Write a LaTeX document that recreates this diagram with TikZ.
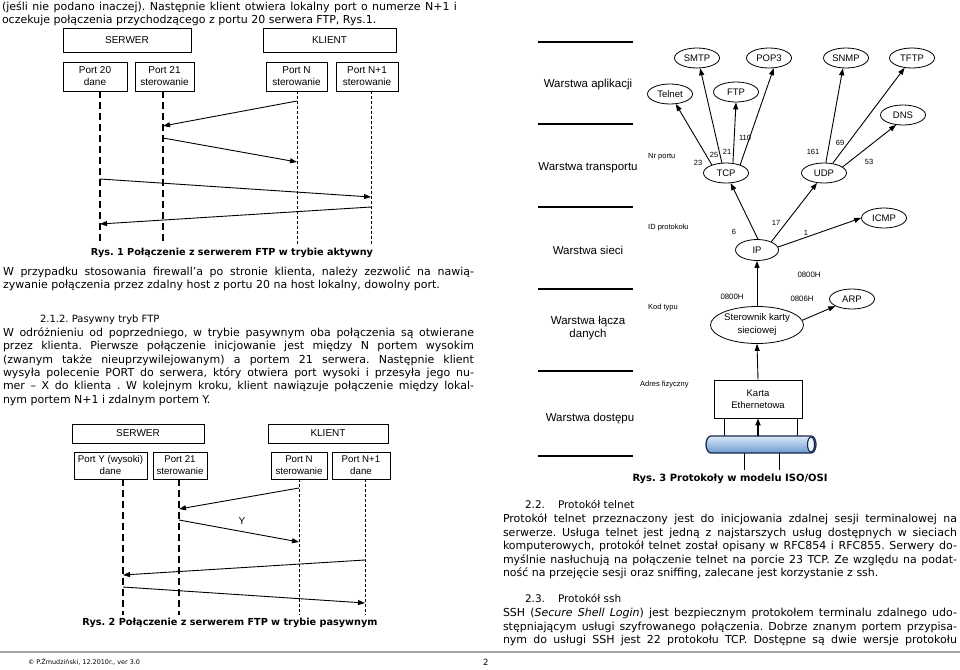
\documentclass[tikz,border=0pt]{standalone}
\usepackage{fontspec}
\usepackage{graphicx}
\setmainfont{DejaVu Sans}
\newfontfamily\arialf{Liberation Sans}
\usetikzlibrary{arrows.meta,shapes.geometric}
\frenchspacing
\newcommand\fs[2]{\fontsize{#1}{#2}\selectfont}
\newcommand\jline[5]{\node[txt,font=#2] (#1) at (#3) {\makebox[#4pt][s]{\strut #5}};}
\newcommand\nline[4]{\node[txt,font=#2] (#1) at (#3) {\strut #4};}
\newcommand\bodyl{\fs{11}{13}}
\newcommand\bodyr{\fs{11}{13}}
\definecolor{cylA}{HTML}{DBE8F6}
\definecolor{cylB}{HTML}{A9C7EA}
\definecolor{cylC}{HTML}{6E9BD0}
\definecolor{cylD}{HTML}{1C2A50}
\definecolor{cylE}{HTML}{EEF4FB}
\tikzset{
 txt/.style={anchor=west, inner sep=0pt, outer sep=0pt},
 sbox/.style={draw, line width=0.6pt, inner sep=0pt, align=center, font=\arialf\fs{10}{12}},
 ell/.style={ellipse, draw, line width=0.8pt, minimum width=45pt, minimum height=20pt, inner sep=0pt, font=\arialf\fs{9.5}{11}},
 arr/.style={-{Triangle[length=7pt,width=5pt]}, line width=0.9pt},
 srv/.style={line width=1.1pt, dash pattern=on 7pt off 4pt},
 cli/.style={line width=0.5pt, dash pattern=on 3pt off 2pt},
 layer/.style={line width=2pt},
 lyr/.style={font=\arialf\fs{11.5}{13.5}, align=center, inner sep=0pt},
 small/.style={font=\arialf\fs{7.5}{9}, inner sep=0pt},
 capt/.style={inner sep=0pt},
}
\begin{document}
\begin{tikzpicture}[x=1pt,y=-1pt]
\useasboundingbox (0,0) rectangle (960,669);
\fill[white] (0,0) rectangle (960,669);

% ---------- left column text ----------
\jline{t1}{\bodyl}{2,7.5}{455}{(jeśli nie podano inaczej). Następnie klient otwiera lokalny port o numerze N+1 i}
\nline{t2}{\bodyl}{2,21}{oczekuje połączenia przychodzącego z portu 20 serwera FTP, Rys.1.}

% ---------- Rys. 1 ----------
\node[sbox, minimum width=128pt, minimum height=24pt] (serwer1) at (127,40) {SERWER};
\node[sbox, minimum width=133pt, minimum height=24pt] (klient1) at (329.5,40) {KLIENT};
\node[sbox, minimum width=64pt, minimum height=29pt] (p20) at (95,76.5) {Port 20\\dane};
\node[sbox, minimum width=59pt, minimum height=29pt] (p21) at (164.5,76.5) {Port 21\\sterowanie};
\node[sbox, minimum width=61pt, minimum height=29pt] (pN) at (296.5,76.5) {Port N\\sterowanie};
\node[sbox, minimum width=62pt, minimum height=29pt] (pN1) at (367,76.5) {Port N+1\\sterowanie};
\coordinate (a20) at (100,244);
\coordinate (a21) at (163,244);
\coordinate (aN) at (297,244);
\coordinate (aN1) at (371,244);
\draw[srv] (a20 |- p20.south) -- (a20);
\draw[srv] (a21 |- p21.south) -- (a21);
\draw[cli] (aN |- pN.south) -- (aN);
\draw[cli] (aN1 |- pN1.south) -- (aN1);
\coordinate (m1s) at (297,101); \coordinate (m1e) at (163,126);
\coordinate (m2s) at (163,138); \coordinate (m2e) at (297,162);
\coordinate (m3s) at (100,179); \coordinate (m3e) at (371,197);
\coordinate (m4s) at (371,207); \coordinate (m4e) at (100,224);
\draw[arr] (m1s) -- (m1e);
\draw[arr] (m2s) -- (m2e);
\draw[arr] (m3s) -- (m3e);
\draw[arr] (m4s) -- (m4e);
\node[capt] (cap1) at (232,253) {\resizebox{282pt}{!}{\bfseries\fs{9}{11}Rys. 1 Połączenie z serwerem FTP w trybie aktywny}};

\jline{p1a}{\bodyl}{3,273}{471}{W przypadku stosowania firewall’a po stronie klienta, należy zezwolić na nawią-}
\nline{p1b}{\bodyl}{3,285.5}{zywanie połączenia przez zdalny host z portu 20 na host lokalny, dowolny port.}

\nline{h212}{\fs{10}{11}}{40,320.5}{2.1.2. Pasywny tryb FTP}
\jline{p2a}{\bodyl}{3,334}{471}{W odróżnieniu od poprzedniego, w trybie pasywnym oba połączenia są otwierane}
\jline{p2b}{\bodyl}{3,347.3}{471}{przez klienta. Pierwsze połączenie inicjowanie jest między N portem wysokim}
\jline{p2c}{\bodyl}{3,360.6}{471}{(zwanym także nieuprzywilejowanym) a portem 21 serwera. Następnie klient}
\jline{p2d}{\bodyl}{3,373.9}{471}{wysyła polecenie PORT do serwera, który otwiera port wysoki i przesyła jego nu-}
\jline{p2e}{\bodyl}{3,387.2}{471}{mer – X do klienta . W kolejnym kroku, klient nawiązuje połączenie między lokal-}
\nline{p2f}{\bodyl}{3,400.5}{nym portem N+1 i zdalnym portem Y.}

% ---------- Rys. 2 ----------
\node[sbox, minimum width=132pt, minimum height=19pt] (serwer2) at (138,433.5) {SERWER};
\node[sbox, minimum width=120pt, minimum height=19pt] (klient2) at (328,433.5) {KLIENT};
\node[sbox, font=\arialf\fs{9.7}{12}, minimum width=73pt, minimum height=27pt] (pY) at (110.5,465.5) {Port Y (wysoki)\\dane};
\node[sbox, font=\arialf\fs{9.7}{12}, minimum width=54pt, minimum height=27pt] (q21) at (180,465.5) {Port 21\\sterowanie};
\node[sbox, font=\arialf\fs{9.7}{12}, minimum width=56pt, minimum height=27pt] (qN) at (299,465.5) {Port N\\sterowanie};
\node[sbox, font=\arialf\fs{9.7}{12}, minimum width=58pt, minimum height=27pt] (qN1) at (361,465.5) {Port N+1\\dane};
\coordinate (bY) at (123,615);
\coordinate (b21) at (179,615);
\coordinate (bN) at (299,615);
\coordinate (bN1) at (365,615);
\draw[srv] (bY |- pY.south) -- (bY);
\draw[srv] (b21 |- q21.south) -- (b21);
\draw[cli] (bN |- qN.south) -- (bN);
\draw[cli] (bN1 |- qN1.south) -- (bN1);
\coordinate (n1s) at (299,488); \coordinate (n1e) at (179,509);
\coordinate (n2s) at (179,520); \coordinate (n2e) at (299,542);
\coordinate (n3s) at (365,560); \coordinate (n3e) at (123,575);
\coordinate (n4s) at (123,587); \coordinate (n4e) at (365,603);
\draw[arr] (n1s) -- (n1e);
\draw[arr] (n2s) -- (n2e);
\draw[arr] (n3s) -- (n3e);
\draw[arr] (n4s) -- (n4e);
\node[inner sep=0pt, font=\arialf\fs{10}{12}] (ylab) at (242,521) {Y};
\node[capt] (cap2) at (230,623) {\resizebox{295pt}{!}{\bfseries\fs{9}{11}Rys. 2 Połączenie z serwerem FTP w trybie pasywnym}};

% ---------- footer ----------
\draw[gray!70, line width=1.2pt] (0,652) -- (960,652);
\node[txt] (foot) at (28,662) {\resizebox{112pt}{!}{\fs{8}{10}© P.Żmudziński, 12.2010r., ver 3.0}};
\node[txt, font=\fs{8.5}{10}] (pg) at (483,662) {2};

% ---------- Rys. 3 : layers ----------
\draw[layer] (538,42) -- (633,42);
\draw[layer] (538,124) -- (633,124);
\draw[layer] (538,207) -- (633,207);
\draw[layer] (538,289) -- (633,289);
\draw[layer] (538,371) -- (633,371);
\draw[layer] (538,456) -- (633,456);
\node[lyr] (w1) at (588,85) {Warstwa aplikacji};
\node[lyr] (w2) at (588,168) {Warstwa transportu};
\node[lyr] (w3) at (588,250) {Warstwa sieci};
\node[lyr] (w4) at (588,328) {Warstwa łącza\\danych};
\node[lyr] (w5) at (590,419) {Warstwa dostępu};
\node[small, anchor=west] (nrp) at (648,157) {Nr portu};
\node[small, anchor=west] (idp) at (648,228) {ID protokołu};
\node[small, anchor=west] (kod) at (648,308) {Kod typu};
\node[small, anchor=west] (adr) at (640,385) {Adres fizyczny};

% protocol ellipses
\node[ell] (smtp) at (697,58) {SMTP};
\node[ell] (pop3) at (769,58) {POP3};
\node[ell] (snmp) at (846,58) {SNMP};
\node[ell] (tftp) at (912,58) {TFTP};
\node[ell] (telnet) at (670,94) {Telnet};
\node[ell] (ftp) at (736,92) {FTP};
\node[ell] (dns) at (903,115) {DNS};
\node[ell] (tcp) at (726,173) {TCP};
\node[ell] (udp) at (824,173) {UDP};
\node[ell, minimum width=43pt, minimum height=21pt] (ip) at (757,250) {IP};
\node[ell] (icmp) at (884,218) {ICMP};
\node[ell] (arp) at (852,299) {ARP};
\node[ell, minimum width=93pt, minimum height=37pt, align=center, font=\arialf\fs{9.6}{13}] (ster) at (757,325) {Sterownik karty\\sieciowej};
\node[draw, line width=0.7pt, minimum width=88pt, minimum height=38pt, inner sep=0pt, align=center, font=\arialf\fs{9.5}{12}] (karta) at (758,399) {Karta\\Ethernetowa};

\draw[arr] (tcp.150) -- (telnet.-60);
\draw[arr] (tcp.112) -- (smtp.-73);
\draw[arr] (tcp.55) -- (ftp.-90);
\draw[arr] (tcp.30) -- (pop3.-65);
\draw[arr] (udp.80) -- (snmp.-107);
\draw[arr] (udp.48) -- (tftp.-127);
\draw[arr] (udp.18) -- (dns.-125);
\draw[arr] (ip.85) -- (tcp.-65);
\draw[arr] (ip.30) -- (udp.-125);
\draw[arr] (ip.8) -- (icmp.180);
\draw[arr] (ster.north) -- (ip.south);
\draw[arr] (ster.6) -- (arp.-157);
\draw[arr] (karta.north) -- (ster.south);

\node[small] (l23) at (698,163) {23};
\node[small] (l25) at (714,155) {25};
\node[small] (l21) at (727,152) {21};
\node[small] (l110) at (745,138) {110};
\node[small] (l161) at (813,152) {161};
\node[small] (l69) at (840,143) {69};
\node[small] (l53) at (869,162) {53};
\node[small] (l6) at (734,232) {6};
\node[small] (l17) at (776,223) {17};
\node[small] (l1) at (806,233) {1};
\node[small, font=\arialf\fs{7.8}{9}] (h1) at (809,275) {0800H};
\node[small, font=\arialf\fs{7.8}{9}] (h2) at (732,297) {0800H};
\node[small, font=\arialf\fs{7.8}{9}] (h3) at (802,299) {0806H};

% cable
\draw[line width=0.6pt] (724,418) -- (724,436);
\draw[line width=0.6pt] (797,418) -- (797,436);
\draw[line width=0.6pt] (744,453) -- (744,470);
\draw[line width=0.6pt] (779,453) -- (779,470);
\shade[top color=cylA, middle color=cylB, bottom color=cylC, draw=cylD, line width=1.3pt]
  (811,436) -- (711,436) arc[start angle=270, end angle=90, x radius=5, y radius=8.5]
  -- (811,453) arc[start angle=90, end angle=-90, x radius=5, y radius=8.5] -- cycle;
\filldraw[fill=cylE, draw=cylD, line width=1.1pt] (811,444.5) ellipse[x radius=3.5, y radius=7.5];
\coordinate (cyltop) at (758,436);
\draw[arr, line width=1.6pt] (cyltop) -- (karta.south);
\node[capt] (cap3) at (730,479) {\resizebox{195pt}{!}{\bfseries\fs{9}{11}Rys. 3 Protokoły w modelu ISO/OSI}};

% ---------- right column text ----------
\nline{h22a}{\fs{10.5}{12}}{525,506}{2.2.}
\nline{h22b}{\fs{10.5}{12}}{558,506}{Protokół telnet}
\jline{r1}{\bodyr}{503,520}{454}{Protokół telnet przeznaczony jest do inicjowania zdalnej sesji terminalowej na}
\jline{r2}{\bodyr}{503,533.5}{454}{serwerze. Usługa telnet jest jedną z najstarszych usług dostępnych w sieciach}
\jline{r3}{\bodyr}{503,547}{454}{komputerowych, protokół telnet został opisany w RFC854 i RFC855. Serwery do-}
\jline{r4}{\bodyr}{503,560.5}{454}{myślnie nasłuchują na połączenie telnet na porcie 23 TCP. Ze względu na podat-}
\nline{r5}{\bodyr}{503,574}{ność na przejęcie sesji oraz sniffing, zalecane jest korzystanie z ssh.}
\nline{h23a}{\fs{10.5}{12}}{525,600}{2.3.}
\nline{h23b}{\fs{10.5}{12}}{558,600}{Protokół ssh}
\jline{s1}{\bodyr}{503,614}{454}{SSH (\textit{Secure Shell Login}) jest bezpiecznym protokołem terminalu zdalnego udo-}
\jline{s2}{\bodyr}{503,627.5}{454}{stępniającym usługi szyfrowanego połączenia. Dobrze znanym portem przypisa-}
\jline{s3}{\bodyr}{503,641}{454}{nym do usługi SSH jest 22 protokołu TCP. Dostępne są dwie wersje protokołu}
\end{tikzpicture}
\end{document}
